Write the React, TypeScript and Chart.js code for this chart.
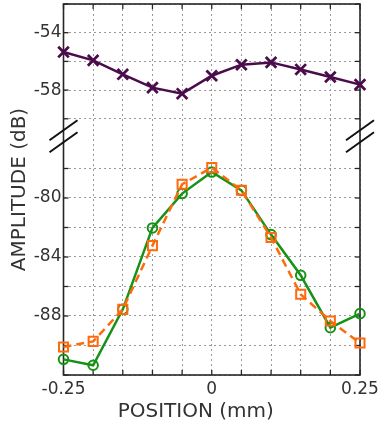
import React, { useEffect, useRef } from 'react';
import { Chart, registerables } from 'chart.js';

Chart.register(...registerables);

// ---- data ----
const positions = [-0.25, -0.2, -0.15, -0.1, -0.05, 0, 0.05, 0.1, 0.15, 0.2, 0.25];
const purpleSeries = [-55.35, -55.93, -56.9, -57.83, -58.25, -57.0, -56.23, -56.07, -56.56, -57.09, -57.62];
const greenSeries = [-90.94, -91.34, -87.55, -82.03, -79.7, -78.24, -79.48, -82.48, -85.24, -88.79, -87.84];
const orangeSeries = [-90.1, -89.72, -87.55, -83.23, -79.07, -77.94, -79.48, -82.68, -86.53, -88.34, -89.83];

const xTickLabels = ['-0.25', '0', '0.25'];
const yTickLabels = ['-54', '-58', '-80', '-84', '-88'];
const yGridTop = [-60, -58, -56, -54, -52];
const yGridBottom = [-92, -90, -88, -86, -84, -82, -80, -78];

const xTitle = 'POSITION (mm)';
const yTitle = 'AMPLITUDE (dB)';

// broken axis: values between -60 and -78 are cut out
const BREAK_HIGH = -60;
const BREAK_LOW = -78;
const GAP = 3.463; // size of the break, in axis units
const K = 1.0279; // relative scale of the lower section
const T = (v: number) => (v > (BREAK_HIGH + BREAK_LOW) / 2 ? v : BREAK_HIGH - GAP + (v - BREAK_LOW) * K);
const yGridAll = [...yGridBottom, ...yGridTop];
const realOf = (t: number) => yGridAll.find((v) => Math.abs(T(v) - t) < 1e-6);

const FONT = 'DejaVu Sans';
const TEXT = '#333333';

const framePlugin = {
  id: 'frameBreaks',
  beforeDatasetsDraw(chart: any) {
    const { ctx, chartArea: a, scales } = chart;
    const line = (x1: number, y1: number, x2: number, y2: number) => {
      ctx.beginPath();
      ctx.moveTo(x1, y1);
      ctx.lineTo(x2, y2);
      ctx.stroke();
    };
    ctx.save();
    ctx.setLineDash([]);
    ctx.strokeStyle = '#262626';
    ctx.lineWidth = 1.6;
    ctx.strokeRect(a.left, a.top, a.right - a.left, a.bottom - a.top);
    ctx.lineWidth = 1.3;
    scales.x.ticks.forEach((t: any) => {
      const px = scales.x.getPixelForValue(t.value);
      line(px, a.top, px, a.top + 5);
      line(px, a.bottom, px, a.bottom - 5);
    });
    scales.y.ticks.forEach((t: any) => {
      const py = scales.y.getPixelForValue(t.value);
      line(a.left, py, a.left + 5, py);
      line(a.right, py, a.right - 5, py);
    });
    // break marks
    const gTop = scales.y.getPixelForValue(T(BREAK_HIGH));
    ctx.lineWidth = 2;
    ctx.strokeStyle = '#111111';
    [a.left, a.right].forEach((x) => {
      [11.5, 23.5].forEach((off) => {
        const cy = gTop + off;
        line(x - 14, cy + 10, x + 14, cy - 10);
      });
    });
    ctx.restore();
  },
  afterDraw(chart: any) {
    const { ctx, chartArea: a } = chart;
    ctx.save();
    ctx.font = `20px "${FONT}"`;
    ctx.fillStyle = TEXT;
    ctx.textAlign = 'center';
    ctx.textBaseline = 'alphabetic';
    ctx.fillText(xTitle, (a.left + a.right) / 2 - 16, 416.5);
    ctx.restore();
  },
};

export default function App() {
  const ref = useRef<HTMLCanvasElement>(null);

  useEffect(() => {
    document.body.style.margin = '0';
    const mk = (vals: number[]) => positions.map((x, i) => ({ x, y: T(vals[i]) }));
    const chart = new Chart(ref.current as HTMLCanvasElement, {
      type: 'line',
      data: {
        datasets: [
          {
            label: 'top',
            data: mk(purpleSeries),
            borderColor: '#4b0c4b',
            backgroundColor: 'transparent',
            borderWidth: 2.5,
            pointStyle: 'crossRot',
            pointRadius: 7.5,
            pointBorderWidth: 2.8,
            pointBorderColor: '#4b0c4b',
            clip: false as any,
          },
          {
            label: 'orange',
            data: mk(orangeSeries),
            borderColor: '#ff6a0d',
            backgroundColor: 'transparent',
            borderWidth: 2.5,
            borderDash: [8, 5],
            pointStyle: 'rect',
            pointRadius: 6.4,
            pointBorderWidth: 2,
            pointBorderColor: '#ff6a0d',
            pointBackgroundColor: 'transparent',
            clip: false as any,
          },
          {
            label: 'green',
            data: mk(greenSeries),
            borderColor: '#169216',
            backgroundColor: 'transparent',
            borderWidth: 2.5,
            pointStyle: 'circle',
            pointRadius: 4.8,
            pointBorderWidth: 2,
            pointBorderColor: '#169216',
            pointBackgroundColor: 'transparent',
            clip: false as any,
          },
        ],
      },
      options: {
        animation: false,
        responsive: false,
        devicePixelRatio: 1,
        layout: { autoPadding: false, padding: { top: 4, right: 18, left: 0, bottom: 0 } },
        plugins: { legend: { display: false }, tooltip: { enabled: false } },
        elements: { line: { tension: 0 } },
        scales: {
          x: {
            type: 'linear',
            min: -0.25,
            max: 0.25,
            border: { display: false, dash: [2, 3] },
            grid: { color: '#999999', lineWidth: 1, drawTicks: false },
            ticks: {
              stepSize: 0.05,
              autoSkip: false,
              maxRotation: 0,
              padding: 4,
              color: TEXT,
              font: { family: FONT, size: 17 },
              callback: (v: any) => xTickLabels.find((l) => Math.abs(Number(l) - Number(v)) < 1e-9) ?? '',
            },
            afterFit: (s: any) => {
              s.height = 51;
              s.paddingLeft = 0;
              s.paddingRight = 0;
            },
          },
          y: {
            type: 'linear',
            min: T(-92),
            max: -52,
            border: { display: false, dash: [2, 3] },
            grid: { color: '#999999', lineWidth: 1, drawTicks: false },
            afterBuildTicks: (s: any) => {
              s.ticks = yGridAll.map((v) => ({ value: T(v) }));
            },
            ticks: {
              padding: 2,
              color: TEXT,
              font: { family: FONT, size: 17, lineHeight: 0.4 },
              callback: (v: any) => {
                const r = realOf(Number(v));
                return r !== undefined && yTickLabels.includes(String(r)) ? String(r) : '';
              },
            },
            title: {
              display: true,
              text: yTitle,
              color: TEXT,
              font: { family: FONT, size: 20 },
              padding: { top: 8, bottom: 0 },
            },
            afterFit: (s: any) => {
              s.width = 63.5;
              s.paddingTop = 0;
              s.paddingBottom = 0;
            },
          },
        },
      } as any,
      plugins: [framePlugin],
    });
    return () => chart.destroy();
  }, []);

  return (
    <div style={{ width: 378, height: 426 }}>
      <canvas ref={ref} width={378} height={426} style={{ display: 'block', width: 378, height: 426 }} />
    </div>
  );
}
